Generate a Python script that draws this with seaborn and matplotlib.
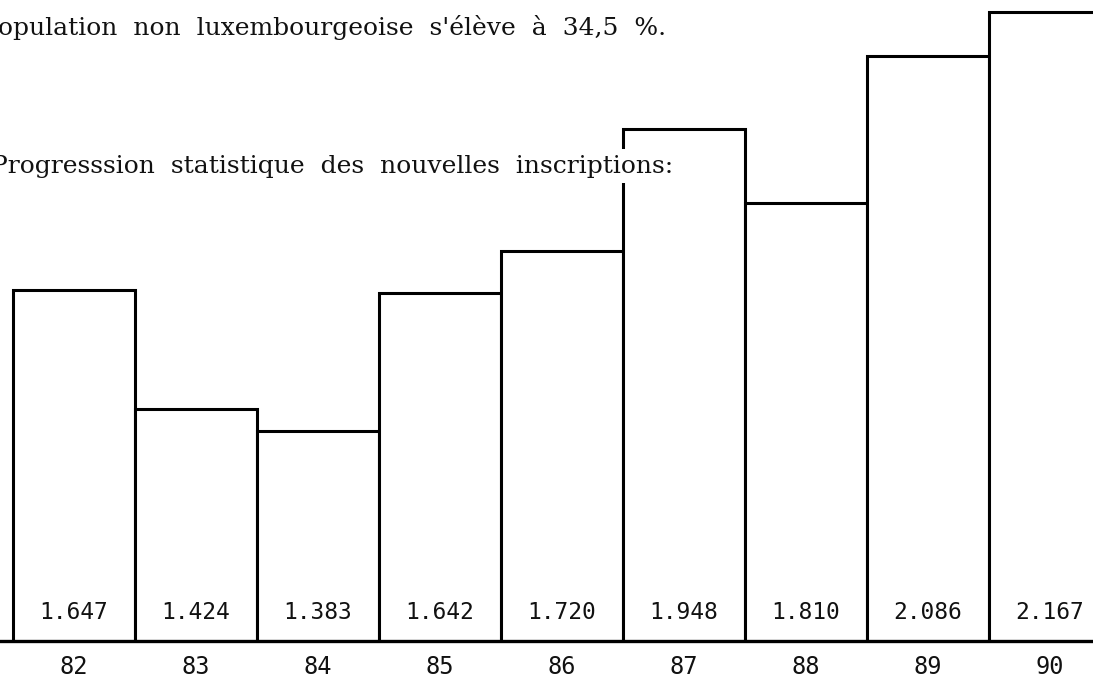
import matplotlib
matplotlib.use("Agg")
import matplotlib.pyplot as plt
import pandas as pd
import seaborn as sns

# data
years = ["82", "83", "84", "85", "86", "87", "88", "89", "90"]
inscriptions = [1.647, 1.424, 1.383, 1.642, 1.720, 1.948, 1.810, 2.086, 2.167]
value_labels = ["1.647", "1.424", "1.383", "1.642", "1.720",
                "1.948", "1.810", "2.086", "2.167"]

# the scan is cut on the left, so the first letters are partly lost
line1 = "opulation  non  luxembourgeoise  s'élève  à  34,5  %."
line2 = "Progresssion  statistique  des  nouvelles  inscriptions:"

df = pd.DataFrame({"annee": years, "inscriptions": inscriptions})

sns.set_style("white")
plt.rcParams["font.family"] = ["DejaVu Sans Mono"]

W, H = 1093, 687
fig = plt.figure(figsize=(W / 100, H / 100), dpi=100)
base_px = 641
ax = fig.add_axes([0, (H - base_px) / H, 1, base_px / H])

sns.barplot(data=df, x="annee", y="inscriptions", ax=ax, width=1,
            color="white", edgecolor="black", linewidth=2.2)

ax.set_xlim(-0.5 - 13 / 122, -0.5 + (W - 13) / 122)
ax.set_ylim(0.99, 2.19)

for i, lab in enumerate(value_labels):
    ax.text(i, 1.044, lab, ha="center", va="center", fontsize=16.5,
            family="DejaVu Sans Mono", color="#111111")

for s in ["top", "left", "right"]:
    ax.spines[s].set_visible(False)
ax.spines["bottom"].set_linewidth(2.4)
ax.spines["bottom"].set_color("black")

ax.set_yticks([])
ax.tick_params(axis="x", length=0, pad=10, labelsize=17, labelcolor="#111111")
ax.set_xlabel("")
ax.set_ylabel("")
ax.patch.set_alpha(0)

fig.text(-2 / W, 1 - 28 / H, line1, ha="left", va="center",
         fontsize=18, family="DejaVu Serif", color="#111111")
# white box: the bar edge of 87 stops at the text in the scan
fig.text(-9 / W, 1 - 166 / H, line2, ha="left", va="center",
         fontsize=18, family="DejaVu Serif", color="#111111",
         bbox=dict(facecolor="white", edgecolor="none", pad=4))

fig.savefig("out.png", dpi=100, facecolor="white")
